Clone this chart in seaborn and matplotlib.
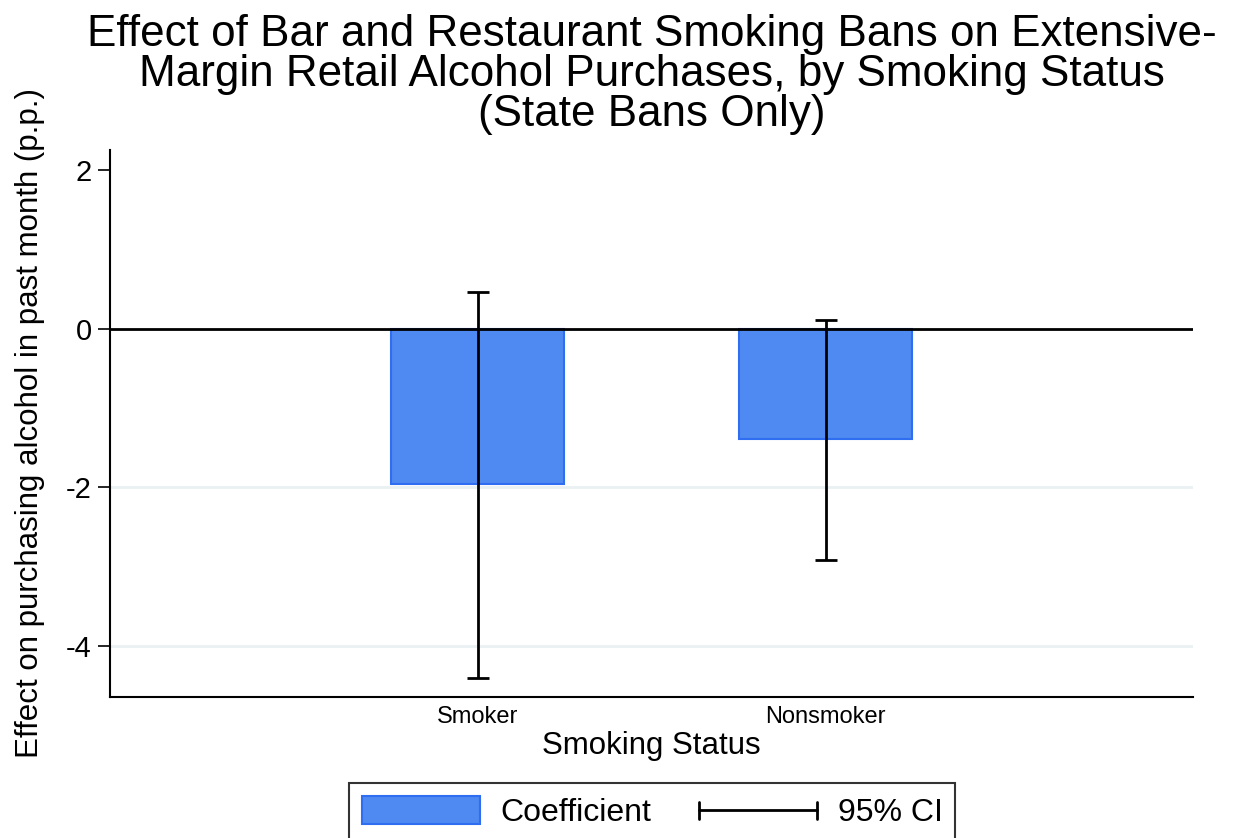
import matplotlib
matplotlib.use("Agg")
import matplotlib.pyplot as plt
from matplotlib.patches import Patch
from matplotlib.lines import Line2D
from matplotlib.legend_handler import HandlerBase
import seaborn as sns
import pandas as pd

# Estimates of the ban effect by smoking status (percentage points)
groups = ["Smoker", "Nonsmoker"]
coefficients = [-1.96, -1.39]
ci_low = [-4.40, -2.91]
ci_high = [0.46, 0.11]
y_ticks = [-4, -2, 0, 2]

sns.set_theme(style="white")
plt.rcParams["font.family"] = ["Liberation Sans", "DejaVu Sans"]
plt.rcParams["text.color"] = "black"
plt.rcParams["axes.labelcolor"] = "black"
plt.rcParams["xtick.color"] = "black"
plt.rcParams["ytick.color"] = "black"


class CIHandler(HandlerBase):
    """Legend key: a horizontal line with end caps."""

    def create_artists(self, legend, orig_handle, xdescent, ydescent,
                       width, height, fontsize, trans):
        y = height / 2 - ydescent
        x0, x1 = -xdescent, width - xdescent
        cap = height * 0.3
        artists = [
            Line2D([x0, x1], [y, y], color="black", linewidth=2),
            Line2D([x0, x0], [y - cap, y + cap], color="black", linewidth=2),
            Line2D([x1, x1], [y - cap, y + cap], color="black", linewidth=2),
        ]
        for a in artists:
            a.set_transform(trans)
        return artists


df = pd.DataFrame({"group": groups, "coef": coefficients})

fig = plt.figure(figsize=(12.33, 8.38), dpi=100)
ax = fig.add_axes([0.0892, 0.1683, 0.8783, 0.6527])

bar_color = "#4f8af2"
edge_color = "#2f6ef0"
sns.barplot(data=df, x="group", y="coef", color=bar_color, saturation=1,
            width=0.497, edgecolor=edge_color, linewidth=1.5, ax=ax, zorder=2)

x_pos = list(range(len(groups)))
err_lo = [c - lo for c, lo in zip(coefficients, ci_low)]
err_hi = [hi - c for c, hi in zip(coefficients, ci_high)]
ax.errorbar(x_pos, coefficients, yerr=[err_lo, err_hi], fmt="none",
            ecolor="black", elinewidth=2, capsize=8, capthick=2, zorder=4)

ax.axhline(0, color="black", linewidth=2, zorder=3)
for t in y_ticks:
    if t < 0:
        ax.axhline(t, color="#eaf1f3", linewidth=2, zorder=0)

ax.set_xlim(-1.057, 2.055)
ax.set_ylim(-4.64, 2.25)
ax.set_yticks(y_ticks)
ax.set_yticklabels([str(t) for t in y_ticks], fontsize=21)
ax.tick_params(axis="y", left=True, length=9, width=1.2, color="black", pad=4)
ax.tick_params(axis="x", bottom=False, labelsize=17, pad=0.5)

for side in ["top", "right"]:
    ax.spines[side].set_visible(False)
for side in ["left", "bottom"]:
    ax.spines[side].set_color("black")
    ax.spines[side].set_linewidth(1.5)

ax.set_xlabel("Smoking Status", fontsize=22.5, labelpad=2)
ax.set_ylabel("Effect on purchasing alcohol in past month (p.p.)", fontsize=22.5, labelpad=15)
ax.set_title("Effect of Bar and Restaurant Smoking Bans on Extensive-\n"
             "Margin Retail Alcohol Purchases, by Smoking Status\n"
             "(State Bans Only)", fontsize=31.7, linespacing=0.98, pad=17)

handles = [
    Patch(facecolor=bar_color, edgecolor=edge_color, linewidth=1.5),
    Line2D([0], [0]),
]
leg = fig.legend(handles, ["Coefficient", "95% CI"], loc="upper center",
                 bbox_to_anchor=(0.529, 0.0656), ncol=2, fontsize=23,
                 frameon=True, fancybox=False, edgecolor="black",
                 handlelength=3.7, handleheight=1.0, handletextpad=0.63,
                 columnspacing=1.5, borderpad=0.4, borderaxespad=0,
                 handler_map={Line2D: CIHandler()})
leg.get_frame().set_linewidth(1.5)

fig.savefig("out.png", dpi=100)
